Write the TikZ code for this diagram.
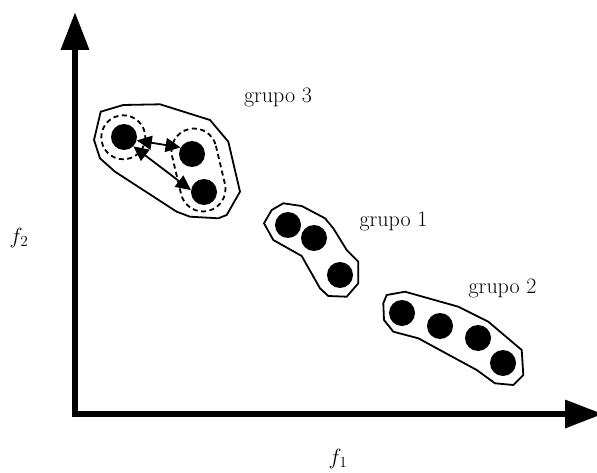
\RequirePackage{fix-cm}
\documentclass[tikz,border=0pt]{standalone}
\usetikzlibrary{arrows.meta,calc}
\begin{document}
\begin{tikzpicture}[x=1pt,y=-1pt,
  dot/.style={circle,fill=black,minimum size=26pt,inner sep=0pt},
  outline/.style={draw=black,line width=1.8pt,line join=miter},
  dsh/.style={draw=black,line width=1.8pt,dash pattern=on 5pt off 3.5pt},
  dbl/.style={line width=1.8pt,{Triangle[length=15pt,width=14pt]}-{Triangle[length=15pt,width=14pt]}},
  axis/.style={line width=6.5pt,line join=miter,{Triangle[length=38pt,width=27pt]}-{Triangle[length=38pt,width=27pt]}},
  lbl/.style={font=\fontsize{22}{26}\selectfont,inner sep=0pt}]
\useasboundingbox (0,0) rectangle (597,473);
% axes
\coordinate (ytop) at (75,12);
\coordinate (O) at (75,414);
\coordinate (xend) at (603,414);
\draw[axis] (ytop) -- (O) -- (xend);
\node[lbl] (f2) at (19,238) {$f_2$};
\node[lbl] (f1) at (338,459) {$f_1$};
% group 3
\draw[outline] (100.7,111.7) -- (123.3,105) -- (160,104.3) -- (210,120) -- (228.3,141.7) -- (240,191.7) -- (226.7,215) -- (218.3,218.3) -- (190,216.7) -- (176.7,211.7) -- (115,171.7) -- (100,158.3) -- (94,140) -- cycle;
\node[dot] (A) at (124,137) {};
\node[dot] (B) at (192,154) {};
\node[dot] (C) at (204,192) {};
\draw[dsh] (123.3,137.3) circle[radius=22];
\coordinate (P) at (194,151);
\coordinate (Q) at (203,189);
\draw[dsh] ($(P)+(-13.3:22.5)$) -- ($(Q)+(-13.3:22.5)$) arc[start angle=-13.3,end angle=166.7,radius=22.5] -- ($(P)+(166.7:22.5)$) arc[start angle=166.7,end angle=346.7,radius=22.5] -- cycle;
\draw[dbl] (A.-15) -- (B.150);
\draw[dbl] (A.-45) -- (C.172);
\node[lbl,anchor=base] (g3) at (278,103) {grupo 3};
% group 1
\draw[outline] (264,223.3) -- (271.7,210) -- (283.3,203.3) -- (301.7,206) -- (325,218.3) -- (333.3,228.3) -- (346.7,250) -- (358.3,261.7) -- (358.3,283.3) -- (346.7,296.7) -- (328.3,296) -- (320,288.3) -- (301.7,256) -- (273.3,240) -- cycle;
\node[dot] (d1) at (288,225) {};
\node[dot] (d2) at (314,238) {};
\node[dot] (d3) at (340,275) {};
\node[lbl,anchor=base] (g1) at (393.5,227) {grupo 1};
% group 2
\draw[outline] (383.3,303.3) -- (386.7,295) -- (405,291.7) -- (458.3,306.7) -- (488.3,321.7) -- (521.7,350) -- (523.3,375) -- (513.3,385) -- (495,383.3) -- (476.7,370) -- (418.3,338.3) -- (393.3,331.7) -- (384,320) -- cycle;
\node[dot] (e1) at (402,313) {};
\node[dot] (e2) at (440,326) {};
\node[dot] (e3) at (478,338) {};
\node[dot] (e4) at (503,363) {};
\node[lbl,anchor=base] (g2) at (502.5,293) {grupo 2};
\end{tikzpicture}
\end{document}
